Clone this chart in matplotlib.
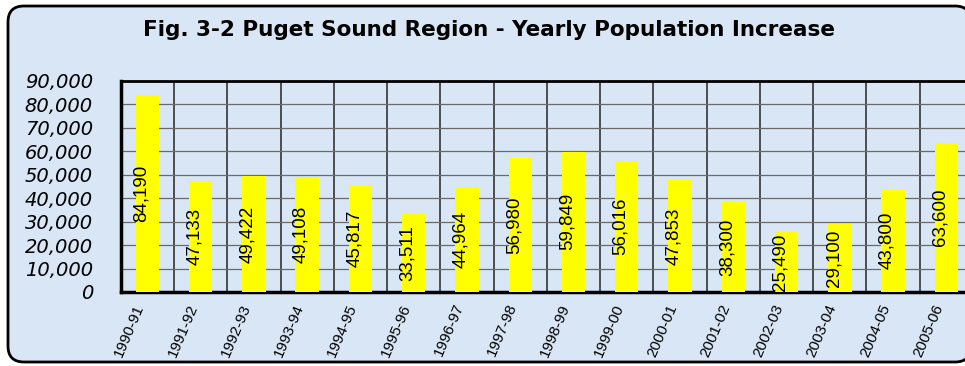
import matplotlib.pyplot as plt
import matplotlib.transforms as mtransforms
from matplotlib.patches import FancyBboxPatch
from matplotlib.ticker import FuncFormatter, MultipleLocator
import numpy as np

# Puget Sound Region - yearly population increase
years = ['1990-91', '1991-92', '1992-93', '1993-94', '1994-95', '1995-96',
         '1996-97', '1997-98', '1998-99', '1999-00', '2000-01', '2001-02',
         '2002-03', '2003-04', '2004-05', '2005-06']
increase = [84190, 47133, 49422, 49108, 45817, 33511, 44964, 56980,
            59849, 56016, 47853, 38300, 25490, 29100, 43800, 63600]
value_labels = ['84,190', '47,133', '49,422', '49,108', '45,817', '33,511',
                '44,964', '56,980', '59,849', '56,016', '47,853', '38,300',
                '25,490', '29,100', '43,800', '63,600']

fig = plt.figure(figsize=(9.65, 3.66), dpi=100, facecolor='white')

# rounded panel behind everything
panel = FancyBboxPatch((0.08, 0.04), 9.63, 3.56,
                       boxstyle='round,pad=0,rounding_size=0.16',
                       transform=fig.dpi_scale_trans,
                       facecolor='#d9e6f5', edgecolor='black', lw=2, zorder=-5)
fig.patches.append(panel)

fig.text(0.507, 0.918, 'Fig. 3-2 Puget Sound Region - Yearly Population Increase',
         ha='center', va='center', fontsize=15.5, fontweight='bold',
         family='DejaVu Sans')

# axes runs a bit past the right edge, like the original
ax = fig.add_axes([0.1251, 0.2022, 0.8832, 0.5765])
ax.set_zorder(2)
ax.set_facecolor('none')

x = np.arange(len(years))
ax.bar(x, increase, width=0.44, color='#ffff00', edgecolor='none', zorder=3)

for xi, v, lab in zip(x, increase, value_labels):
    ax.annotate(lab, xy=(xi, v / 2), xytext=(-4.5, 0), textcoords='offset points',
                rotation=90, ha='center', va='center', fontsize=13.5,
                family='Liberation Sans', zorder=4)

ax.set_xlim(-0.5, len(years) - 0.5)
ax.set_ylim(0, 90000)
ax.yaxis.set_major_locator(MultipleLocator(10000))
ax.yaxis.set_major_formatter(FuncFormatter(lambda v, p: f'{int(v):,}'))
ax.grid(axis='y', which='major', color='#6a6a6a', lw=0.9, zorder=1)

ax.set_xticks(x)
ax.set_xticks(np.arange(-0.5, len(years), 1), minor=True)
ax.grid(axis='x', which='minor', color='#333333', lw=1.2, zorder=1)
ax.set_axisbelow(True)
ax.tick_params(axis='x', which='both', length=0)
ax.tick_params(axis='y', length=0, pad=20)

ax.set_xticklabels(years, rotation=67, ha='right', va='center',
                   rotation_mode='anchor', fontsize=11, family='Liberation Sans')
ax.tick_params(axis='x', pad=9)
shift = mtransforms.ScaledTranslation(-7 / 100, 0, fig.dpi_scale_trans)
for lbl in ax.get_xticklabels():
    lbl.set_transform(lbl.get_transform() + shift)

for lbl in ax.get_yticklabels():
    lbl.set_fontsize(14)
    lbl.set_fontstyle('italic')
    lbl.set_family('DejaVu Sans')

for side in ['left', 'bottom']:
    ax.spines[side].set_linewidth(2.5)
ax.spines['top'].set_linewidth(2)
ax.spines['right'].set_visible(False)

plt.savefig('out.png', dpi=100, facecolor='white')
